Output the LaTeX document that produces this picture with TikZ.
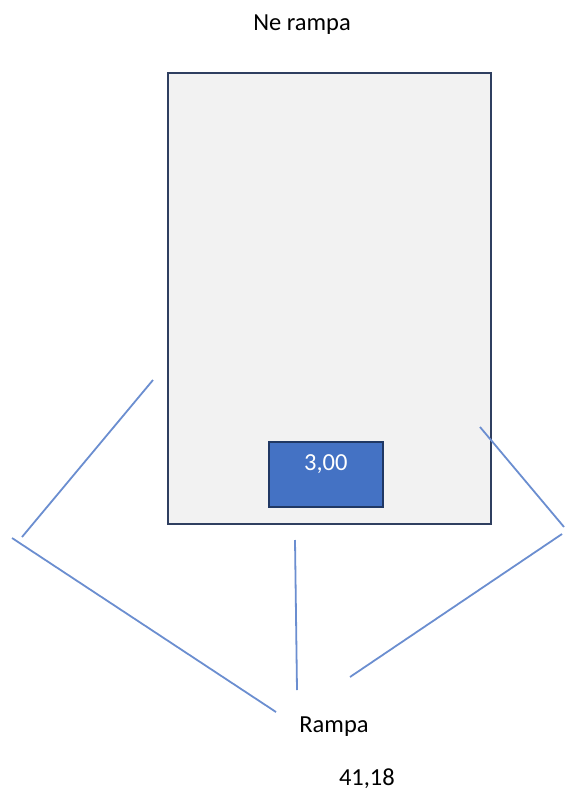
\documentclass[tikz,border=0pt]{standalone}
\usepackage{fontspec}
\setmainfont{Carlito}
\usetikzlibrary{positioning}
\definecolor{boxgray}{HTML}{F2F2F2}
\definecolor{boxedge}{HTML}{2F3F60}
\definecolor{accent}{HTML}{4472C4}
\definecolor{accentedge}{HTML}{203864}
\definecolor{rampline}{HTML}{6B8ED0}

\begin{document}
\begin{tikzpicture}[x=1pt, y=-1pt, font=\fontsize{24.5}{28}\selectfont,
    ramp/.style={draw=rampline, line width=1.8pt}]
        \useasboundingbox (0, 0) rectangle (566, 794);
        \node[rectangle, draw = boxedge, fill = boxgray, line width = 1.8pt, minimum width = 323pt, minimum height = 451pt, anchor = north west] (hall) at (167, 72) {};
        \node[rectangle, draw = accentedge, fill = accent, line width = 1.6pt, minimum width = 114pt, minimum height = 65pt, anchor = north west] (box) at (268, 441) {};
        \node[text = white, anchor = north, inner sep = 0pt] (value) at (box.north) [yshift = -13pt] {3,00};
        \node[inner sep = 0pt] (top) at (302, 25) {Ne rampa};
        \node[inner sep = 0pt] (ramp) at (334, 727) {Rampa};
        \node[inner sep = 0pt] (len) [below right = 32pt and -30pt of ramp] {41,18};

        \coordinate (l1a) at (153, 380);
        \coordinate (l1b) at (22, 537);
        \coordinate (l2a) at (12, 538);
        \coordinate (l2b) at (276, 712);
        \coordinate (l3a) at (295, 540);
        \coordinate (l3b) at (297, 690);
        \coordinate (l4a) at (350, 677);
        \coordinate (l4b) at (562, 534);
        \coordinate (l5a) at (480, 427);
        \coordinate (l5b) at (564, 527);

        \draw[ramp] (l1a) -- (l1b);
        \draw[ramp] (l2a) -- (l2b);
        \draw[ramp] (l3a) -- (l3b);
        \draw[ramp] (l4a) -- (l4b);
        \draw[ramp] (l5a) -- (l5b);
      \end{tikzpicture}
\end{document}
